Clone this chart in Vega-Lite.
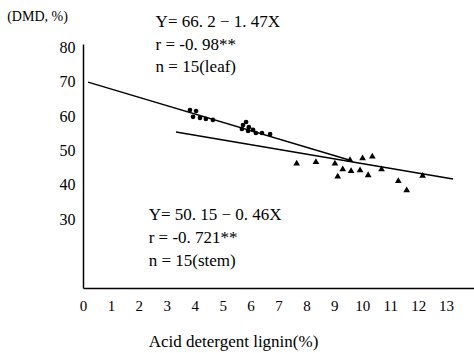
{
  "$schema": "https://vega.github.io/schema/vega-lite/v6.json",
  "autosize": {"type": "none"},
  "padding": {"left": 83, "top": 44, "right": 0, "bottom": 65},
  "width": 391,
  "height": 244,
  "config": {
    "view": {"stroke": null},
    "font": "Liberation Serif",
    "axis": {"grid": false, "domainColor": "#000", "domainWidth": 1.5, "ticks": false, "labelColor": "#000", "titleColor": "#000", "labelFont": "Liberation Serif", "titleFont": "Liberation Serif", "titleFontWeight": "normal", "labelOverlap": false}
  },
  "datasets": {
    "leaf": [
      {"x": 3.83, "y": 61.8}, {"x": 4.05, "y": 61.5}, {"x": 3.94, "y": 59.8},
      {"x": 4.19, "y": 59.5}, {"x": 4.40, "y": 59.2}, {"x": 4.65, "y": 58.9},
      {"x": 5.73, "y": 57.4}, {"x": 5.84, "y": 58.3}, {"x": 5.69, "y": 56.3},
      {"x": 5.91, "y": 55.7}, {"x": 6.09, "y": 56.0}, {"x": 6.19, "y": 55.1},
      {"x": 6.41, "y": 55.1}, {"x": 6.70, "y": 54.8}, {"x": 5.94, "y": 56.8}
    ],
    "stem": [
      {"x": 7.65, "y": 46.5}, {"x": 8.34, "y": 46.9}, {"x": 9.02, "y": 46.5},
      {"x": 9.30, "y": 44.8}, {"x": 9.56, "y": 47.5}, {"x": 9.60, "y": 44.3},
      {"x": 9.92, "y": 44.5}, {"x": 10.01, "y": 48.0}, {"x": 10.21, "y": 43.1},
      {"x": 10.36, "y": 48.5}, {"x": 9.12, "y": 42.7}, {"x": 10.69, "y": 44.8},
      {"x": 11.29, "y": 41.4}, {"x": 11.59, "y": 38.7}, {"x": 12.16, "y": 42.9}
    ],
    "lines": [
      {"series": "leaf", "x": 0.18, "y": 69.9}, {"series": "leaf", "x": 9.56, "y": 47.2},
      {"series": "stem", "x": 3.33, "y": 55.4}, {"series": "stem", "x": 13.25, "y": 41.7}
    ],
    "texts": [
      {"x": 2.6, "y": 87.4, "label": "Y= 66. 2 − 1. 47X"},
      {"x": 2.6, "y": 80.8, "label": "r = -0. 98**"},
      {"x": 2.6, "y": 74.4, "label": "n = 15(leaf)"},
      {"x": 2.35, "y": 31.3, "label": "Y= 50. 15 − 0. 46X"},
      {"x": 2.35, "y": 24.6, "label": "r = -0. 721**"},
      {"x": 2.35, "y": 18.0, "label": "n = 15(stem)"}
    ]
  },
  "encoding": {
    "x": {"field": "x", "type": "quantitative", "scale": {"domain": [0, 14], "nice": false, "zero": false},
      "axis": {"values": [0,1,2,3,4,5,6,7,8,9,10,11,12,13], "labelOverlap": false, "labelSeparation": 0, "title": "Acid detergent lignin(%)", "titleFontSize": 17, "titleX": 150, "titleY": 53, "titleAnchor": null, "titleAlign": "center", "titleBaseline": "middle", "labelFontSize": 15, "labelPadding": 10, "labelFlush": false}},
    "y": {"field": "y", "type": "quantitative", "scale": {"domain": [10, 81], "nice": false, "zero": false},
      "axis": {"values": [30,40,50,60,70,80], "labelOverlap": false, "title": "(DMD, %)", "titleAngle": 0, "titleFontSize": 14, "titleX": -46, "titleY": -28, "titleAlign": "center", "titleBaseline": "middle", "labelFontSize": 16, "labelPadding": 8}}
  },
  "layer": [
    {
      "data": {"name": "lines"},
      "mark": {"type": "line", "color": "#000", "strokeWidth": 1.5},
      "encoding": {
        "detail": {"field": "series"}
      }
    },
    {
      "data": {"name": "leaf"},
      "mark": {"type": "point", "shape": "circle", "filled": true, "color": "#000", "size": 22, "opacity": 1},
      "encoding": {}
    },
    {
      "data": {"name": "stem"},
      "mark": {"type": "point", "shape": "triangle-up", "filled": true, "color": "#000", "size": 45, "opacity": 1},
      "encoding": {}
    },
    {
      "data": {"name": "texts"},
      "mark": {"type": "text", "align": "left", "baseline": "middle", "fontSize": 17, "color": "#000", "font": "Liberation Serif"},
      "encoding": {
        "text": {"field": "label"}
      }
    }
  ]
}
